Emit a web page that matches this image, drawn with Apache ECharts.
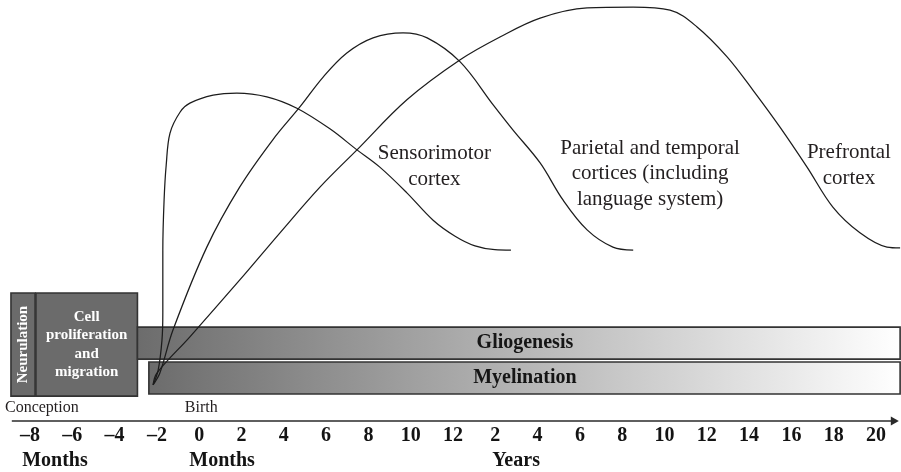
<!DOCTYPE html>
<html>
<head>
<meta charset="utf-8">
<script src="https://cdn.jsdelivr.net/npm/echarts@6/dist/echarts.min.js"></script>
<style>
html,body{margin:0;padding:0;background:#ffffff;}
#chart{width:901px;height:472px;}
</style>
</head>
<body>
<div id="chart"></div>
<script>
// ---- Axis tick labels (one per tick index 0..20) ----
const tickLabels = ['–8','–6','–4','–2','0','2','4','6','8','10','12','2','4','6','8','10','12','14','16','18','20'];

// ---- Unit labels under the axis ----
const unitNames = ['Months','Months','Years'];
const unitX = [0.59, 4.54, 11.49];
const unitY = [-9.5, -9.5, -9.5];

// ---- Event labels above the axis ----
const eventNames = ['Conception','Birth'];
const eventX = [0.28, 4.05];
const eventY = [3.2, 3.2];

// ---- Developmental phases (boxes) ----
const phaseNames = ['Neurulation','Cell\nproliferation\nand\nmigration','Gliogenesis','Myelination'];
const phaseStart = [-0.45, 0.14, 2.54, 2.81];
const phaseEnd = [0.12, 2.54, 20.57, 20.57];
const phaseLow = [5.9, 5.9, 14.7, 6.4];
const phaseHigh = [30.4, 30.4, 22.3, 14.0];
const phaseLabelX = [-0.165, 1.34, 11.7, 11.7];

// ---- Synapse density curves [x (tick index), relative level] ----
const sensorimotor = [[2.91,8.6],[3.03,12.1],[3.12,19.2],[3.14,25.7],[3.14,40.6],[3.17,52.5],[3.22,60.8],[3.31,68.4],[3.55,73.4],[3.78,75.5],[4.33,77.4],[4.89,77.9],[5.60,77.0],[6.31,74.3],[7.09,69.4],[7.73,64.4],[8.27,60.3],[8.91,54.2],[9.53,47.7],[10.05,43.9],[10.52,41.6],[10.99,40.7],[11.37,40.6]];
const parietalTemporal = [[2.91,8.6],[3.07,11.4],[3.38,21.6],[4.18,41.3],[4.96,55.6],[5.74,66.8],[6.38,74.6],[6.93,81.7],[7.49,87.4],[8.11,91.0],[8.82,92.2],[9.39,91.0],[10.17,85.3],[10.95,75.1],[11.42,69.1],[12.06,61.3],[12.60,52.5],[13.17,45.4],[13.78,41.3],[14.26,40.6]];
const prefrontal = [[2.91,8.6],[3.00,11.4],[3.78,20.0],[4.96,33.5],[5.91,44.7],[6.86,55.6],[7.73,64.4],[8.91,76.3],[10.17,85.8],[11.11,91.2],[12.06,95.7],[13.17,98.1],[14.26,98.3],[15.13,97.6],[15.77,93.6],[16.48,86.5],[17.09,78.6],[17.73,69.8],[18.37,60.3],[18.98,50.8],[19.62,44.7],[20.26,41.3],[20.57,41.1]];

// ---- Curve labels ----
const curveLabels = ['Sensorimotor\ncortex','Parietal and temporal\ncortices (including\nlanguage system)','Prefrontal\ncortex'];
const curveLabelX = [9.56, 14.66, 19.36];
const curveLabelY = [60.5, 58.7, 60.7];

// ---- Time axis span (arrow) ----
const axisSpan = [-0.43, 20.54];

const SERIF = '"Liberation Serif", "Times New Roman", "DejaVu Serif", serif';
const LAST_TICK = tickLabels.length - 1;

const chart = echarts.init(document.getElementById('chart'), null, {renderer: 'canvas'});

function textSeries(name, texts, xs, ys, style) {
  return {
    type: 'custom',
    name: name,
    silent: true,
    clip: false,
    encode: {x: 0, y: 1},
    data: texts.map((t, i) => ({name: t, value: [xs[i], ys[i]]})),
    renderItem: function (params, api) {
      const p = api.coord([api.value(0), api.value(1)]);
      return {
        type: 'text',
        x: p[0], y: p[1],
        style: Object.assign({
          text: texts[params.dataIndex],
          align: 'center',
          verticalAlign: 'middle',
          fontFamily: SERIF
        }, style)
      };
    },
    z: 10
  };
}

const curveStyle = {color: '#1c1c1c', width: 1.25};
function curve(name, data) {
  return {
    type: 'line', name: name, data: data, smooth: 0.35, showSymbol: false,
    clip: false, silent: true, lineStyle: curveStyle, z: 5
  };
}

const option = {
  animation: false,
  backgroundColor: '#ffffff',
  // one extra (unlabelled) tick unit on the right so the marks reaching the page edge are inside the axis extent
  grid: {left: 30, right: -17.3, top: 0, bottom: 51, containLabel: false, outerBoundsMode: 'none'},
  xAxis: {
    type: 'value', min: 0, max: LAST_TICK + 1, interval: 1,
    axisLine: {show: false}, axisTick: {show: false}, splitLine: {show: false},
    axisLabel: {
      formatter: v => (Math.round(v) <= LAST_TICK ? tickLabels[Math.round(v)] : ''),
      fontFamily: SERIF, fontSize: 20, fontWeight: 'bold', color: '#141414',
      margin: 5, showMinLabel: true, showMaxLabel: true
    }
  },
  yAxis: {type: 'value', min: 0, max: 100, show: false},
  series: [
    {
      type: 'custom',
      name: 'phases',
      silent: true,
      clip: false,
      encode: {x: [0, 1], y: [2, 3]},
      data: phaseNames.map((n, i) => ({name: n, value: [phaseStart[i], phaseEnd[i], phaseLow[i], phaseHigh[i], phaseLabelX[i]]})),
      renderItem: function (params, api) {
        const i = params.dataIndex;
        const tl = api.coord([api.value(0), api.value(3)]);
        const br = api.coord([api.value(1), api.value(2)]);
        const midY = (tl[1] + br[1]) / 2;
        const lp = api.coord([api.value(4), api.value(2)]);
        const isBar = i >= 2;
        const fill = isBar
          ? new echarts.graphic.LinearGradient(0, 0, 1, 0, [
              {offset: 0, color: '#6c6c6c'},
              {offset: 1, color: '#ffffff'}
            ])
          : '#6b6b6b';
        const children = [{
          type: 'rect',
          shape: {x: tl[0], y: tl[1], width: br[0] - tl[0], height: br[1] - tl[1]},
          style: {fill: fill, stroke: '#333333', lineWidth: 1.6}
        }];
        if (i === 0) {
          children.push({
            type: 'text', x: lp[0], y: midY, rotation: Math.PI / 2,
            style: {text: phaseNames[i], fill: '#ffffff', fontFamily: SERIF, fontSize: 15, fontWeight: 'bold', align: 'center', verticalAlign: 'middle'}
          });
        } else if (i === 1) {
          children.push({
            type: 'text', x: lp[0], y: midY,
            style: {text: phaseNames[i], fill: '#ffffff', fontFamily: SERIF, fontSize: 15, fontWeight: 'bold', lineHeight: 18.5, align: 'center', verticalAlign: 'middle'}
          });
        } else {
          children.push({
            type: 'text', x: lp[0], y: midY,
            style: {text: phaseNames[i], fill: '#151515', fontFamily: SERIF, fontSize: 20, fontWeight: 'bold', align: 'center', verticalAlign: 'middle'}
          });
        }
        return {type: 'group', children: children};
      },
      z: 2
    },
    curve('Sensorimotor cortex', sensorimotor),
    curve('Parietal and temporal cortices', parietalTemporal),
    curve('Prefrontal cortex', prefrontal),
    {
      type: 'custom',
      name: 'timeAxis',
      silent: true,
      clip: false,
      encode: {x: [0, 1], y: 2},
      data: [[axisSpan[0], axisSpan[1], 0]],
      renderItem: function (params, api) {
        const a = api.coord([api.value(0), api.value(2)]);
        const b = api.coord([api.value(1), api.value(2)]);
        return {
          type: 'group',
          children: [
            {type: 'line', shape: {x1: a[0], y1: a[1], x2: b[0] - 4, y2: b[1]}, style: {stroke: '#2a2a2a', lineWidth: 1.5}},
            {type: 'polygon', shape: {points: [[b[0], b[1]], [b[0] - 8, b[1] - 4.5], [b[0] - 8, b[1] + 4.5]]}, style: {fill: '#2a2a2a'}}
          ]
        };
      },
      z: 6
    },
    textSeries('curveLabels', curveLabels, curveLabelX, curveLabelY, {fill: '#231f20', fontSize: 21, lineHeight: 25.5}),
    textSeries('events', eventNames, eventX, eventY, {fill: '#231f20', fontSize: 16}),
    textSeries('units', unitNames, unitX, unitY, {fill: '#141414', fontSize: 20, fontWeight: 'bold'})
  ]
};

chart.setOption(option);
</script>
</body>
</html>
